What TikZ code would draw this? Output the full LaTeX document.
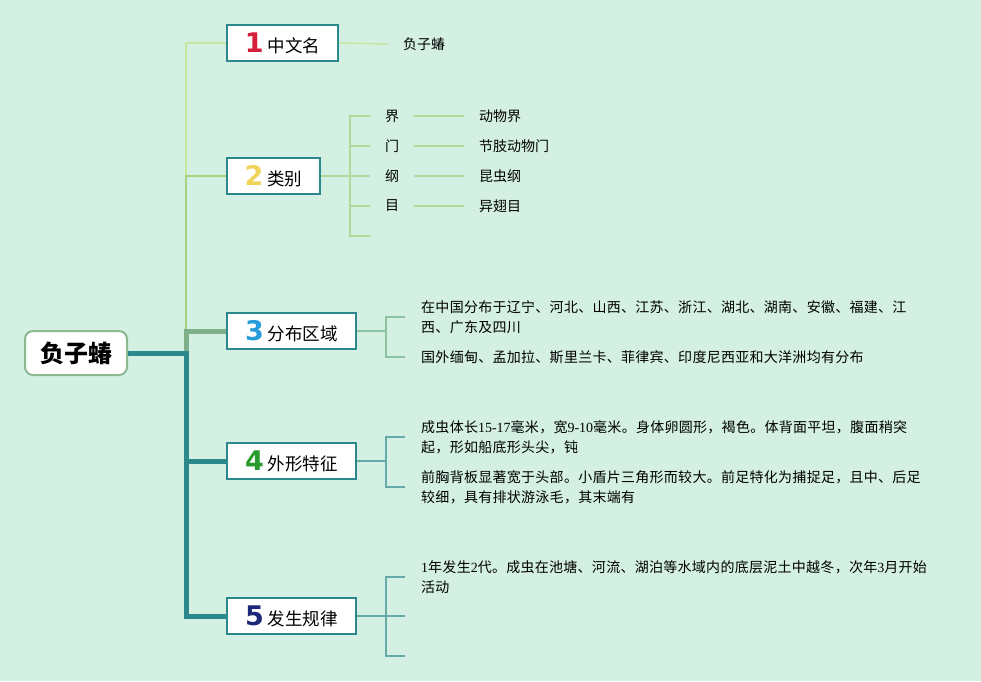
\documentclass[tikz,border=0pt]{standalone}
\usepackage{fontspec}
\usepackage{xcolor}
\usepackage{tikz}
\usetikzlibrary{positioning, calc}
\setmainfont{Noto Sans CJK SC}
\newfontfamily\cjk{Noto Sans CJK SC}
\newfontfamily\leaffont{Noto Sans CJK SC}[LetterSpace=2]
\newfontfamily\serifdg{Liberation Serif}
\newfontfamily\numfont{DejaVu Sans}
\definecolor{bgcolor}{RGB}{211,240,226}
\definecolor{tealcolor}{RGB}{44,136,138}
\definecolor{sagecolor}{RGB}{125,176,138}
\definecolor{leafgreen}{RGB}{170,208,130}
\definecolor{palegreen}{RGB}{200,230,160}
\definecolor{brgreen}{RGB}{180,215,155}
\definecolor{brsage}{RGB}{140,195,160}
\definecolor{brteal}{RGB}{100,170,168}
\definecolor{rootborder}{RGB}{140,185,145}
\definecolor{numred}{RGB}{214,30,58}
\definecolor{numyellow}{RGB}{240,212,90}
\definecolor{numblue}{RGB}{40,155,218}
\definecolor{numgreen}{RGB}{40,155,45}
\definecolor{numnavy}{RGB}{30,40,120}
\newcommand{\branchnum}[2]{\textcolor{#1}{\numfont\bfseries\fontsize{27}{27}\selectfont #2}\hspace{4pt}}
\newcommand{\dg}[1]{{\serifdg #1}}

\begin{document}
\begin{tikzpicture}[
    x=1pt, y=-1pt,
    root/.style={rectangle, draw=rootborder, line width=2pt, fill=white, rounded corners=8pt, minimum width=102pt, minimum height=44pt, font=\fontsize{24}{28}\selectfont\bfseries},
    branch/.style={rectangle, draw=tealcolor, line width=1.8pt, fill=white, minimum height=36pt, inner ysep=0pt, font=\fontsize{17.5}{20}\selectfont},
    tax/.style={minimum width=44pt, inner sep=0pt, font=\fontsize{14}{16}\selectfont},
    leaf/.style={anchor=west, align=left, inner xsep=16pt, inner ysep=2pt, font=\leaffont\fontsize{14}{20}\selectfont},
    value/.style={anchor=west, inner xsep=15pt, inner ysep=2pt, font=\fontsize{14}{16}\selectfont},
    trunk/.style={line width=5pt, tealcolor},
    sage/.style={line width=5pt, sagecolor},
    thinlink/.style={line width=2pt, #1}
]
\fill[bgcolor] (0,0) rectangle (981,681);
\useasboundingbox (0,0) rectangle (981,681);

% main topic and branches
\node (root) [root] at (76,353) {负子蝽};
\node (b1) [branch, minimum width=111pt] at (282.5,43) {\branchnum{numred}{1}中文名};
\node (b2) [branch, minimum width=93pt] at (273.5,176) {\branchnum{numyellow}{2}类别};
\node (b3) [branch, minimum width=129pt] at (291.5,331) {\branchnum{numblue}{3}分布区域};
\node (b4) [branch, minimum width=129pt] at (291.5,461) {\branchnum{numgreen}{4}外形特征};
\node (b5) [branch, minimum width=129pt] at (291.5,616) {\branchnum{numnavy}{5}发生规律};

\coordinate (hub) at (186,353);
\coordinate (hub3) at (186,331);
\coordinate (hub2) at (186,176);

\draw [thinlink=palegreen, line width=2.5pt] (hub2) |- (b1.west);
\draw [thinlink=leafgreen] (hub3) |- (b2.west);
\draw [sage] ($(hub)+(0,2.5)$) |- (b3.west);
\draw [trunk] (root.east) -| (hub) |- (b5.west);
\draw [trunk] (hub) |- (b4.west);

% 1 中文名
\node (d1) [value] at (388,44) {负子蝽};
\draw [thinlink=palegreen, line width=1.5pt] (b1.east) -- (d1.west);

% 2 类别
\node (t1) [tax] at (392,116) {界};
\node (t2) [tax] at (392,146) {门};
\node (t3) [tax] at (392,176) {纲};
\node (t4) [tax] at (392,206) {目};
\coordinate (t5) at (370,236);
\node (v1) [value] at (464,116) {动物界};
\node (v2) [value] at (464,146) {节肢动物门};
\node (v3) [value] at (464,176) {昆虫纲};
\node (v4) [value] at (464,206) {异翅目};
\draw [thinlink=brgreen, line width=1.5pt] (b2.east) -- (t3.west);
\foreach \t in {t1,t2,t4} {
  \draw [thinlink=brgreen, line width=1.5pt] (350,176) |- (\t.west);
}
\draw [thinlink=brgreen, line width=1.5pt] (350,176) |- (t5);
\foreach \i in {1,...,4} {
  \draw [thinlink=brgreen, line width=1.5pt] (t\i.east) -- (v\i.west);
}

% 3 分布区域
\node (d31) [leaf] at (405,317) {在中国分布于辽宁、河北、山西、江苏、浙江、湖北、湖南、安徽、福建、江\\西、广东及四川};
\node (d32) [leaf] at (405,357) {国外缅甸、孟加拉、斯里兰卡、菲律宾、印度尼西亚和大洋洲均有分布};
\draw [thinlink=brsage, line width=1.5pt] (b3.east) -- (386,331) |- (d31.west);
\draw [thinlink=brsage, line width=1.5pt] (386,331) |- (d32.west);

% 4 外形特征
\node (d41) [leaf] at (405,437) {成虫体长\dg{15-17}毫米，宽\dg{9-10}毫米。身体卵圆形，褐色。体背面平坦，腹面稍突\\起，形如船底形头尖，钝};
\node (d42) [leaf] at (405,487) {前胸背板显著宽于头部。小盾片三角形而较大。前足特化为捕捉足，且中、后足\\较细，具有排状游泳毛，其末端有};
\draw [thinlink=brteal, line width=1.5pt] (b4.east) -- (386,461) |- (d41.west);
\draw [thinlink=brteal, line width=1.5pt] (386,461) |- (d42.west);

% 5 发生规律
\node (d51) [leaf] at (405,577) {\dg{1}年发生\dg{2}代。成虫在池塘、河流、湖泊等水域内的底层泥土中越冬，次年\dg{3}月开始\\活动};
\coordinate (e52) at (405,616);
\coordinate (e53) at (405,656);
\draw [thinlink=brteal, line width=1.5pt] (b5.east) -- (e52);
\draw [thinlink=brteal, line width=1.5pt] (386,616) |- (d51.west);
\draw [thinlink=brteal, line width=1.5pt] (386,616) |- (e53);
\end{tikzpicture}
\end{document}
